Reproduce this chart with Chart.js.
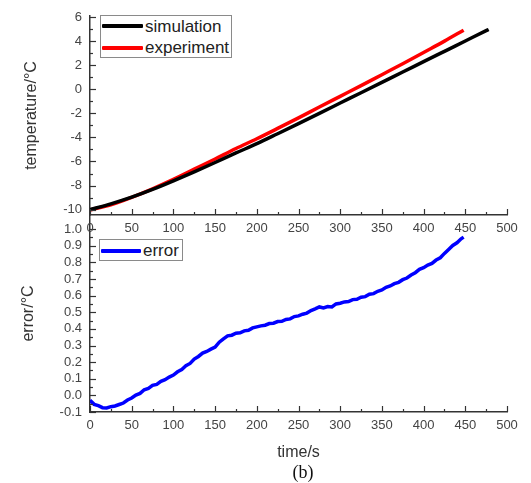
<!DOCTYPE html>
<html>
<head>
<meta charset="utf-8">
<script src="https://cdn.jsdelivr.net/npm/chart.js@4/dist/chart.umd.min.js"></script>
<style>
  body { margin:0; background:#fff; }
  #wrap { position:relative; width:531px; height:483px; overflow:hidden; font-family:"Liberation Sans", Arial, sans-serif; }
  canvas { position:absolute; left:0; top:0; }
  .lg { position:absolute; border:1px solid #8a8a8a; background:#fff; box-sizing:border-box; }
  .sw { position:absolute; height:4px; border-radius:1px; }
  .lt { position:absolute; font-size:17px; color:#222; line-height:17px; white-space:nowrap; }
  #cap { position:absolute; left:0; width:606px; top:462px; text-align:center; font-family:"Liberation Serif", "Times New Roman", serif; font-size:18px; color:#111; }
</style>
</head>
<body>
<div id="wrap">
  <canvas id="c2" width="531" height="483"></canvas>
  <canvas id="c1" width="531" height="483"></canvas>
  <div class="lg" style="left:100px;top:15px;width:132px;height:43px;">
    <div class="sw" style="left:1px;top:8px;width:41px;background:#000;"></div>
    <div class="lt" style="left:44px;top:2px;">simulation</div>
    <div class="sw" style="left:1px;top:30px;width:41px;background:#f00;"></div>
    <div class="lt" style="left:44px;top:23px;">experiment</div>
  </div>
  <div class="lg" style="left:99px;top:239px;width:84px;height:22px;">
    <div class="sw" style="left:1px;top:9px;width:40px;background:#0000ff;"></div>
    <div class="lt" style="left:43px;top:2px;">error</div>
  </div>
  <div id="cap">(b)</div>
</div>
<script>
// ---------- data ----------
const timeTicks = [0, 50, 100, 150, 200, 250, 300, 350, 400, 450, 500];
const tempTicks = [-10, -8, -6, -4, -2, 0, 2, 4, 6];
const errTicks  = [-0.1, 0.0, 0.1, 0.2, 0.3, 0.4, 0.5, 0.6, 0.7, 0.8, 0.9, 1.0];

const simTime   = [0, 25, 50, 75, 100, 125, 150, 175, 200, 225, 250, 275, 300, 325, 350, 375, 400, 425, 450, 475, 478];
const simulation = [-10, -9.525, -8.97, -8.325, -7.61, -6.86, -6.085, -5.29, -4.52, -3.69, -2.85, -2.00, -1.14, -0.28, 0.58, 1.44, 2.30, 3.16, 4.02, 4.88, 4.98];

const expTime   = [0, 25, 50, 75, 100, 125, 150, 175, 200, 225, 250, 275, 300, 325, 350, 375, 400, 425, 448];
const experiment = [-10.03, -9.60, -8.98, -8.27, -7.49, -6.64, -5.79, -4.92, -4.11, -3.25, -2.37, -1.47, -0.58, 0.31, 1.22, 2.13, 3.07, 4.01, 4.92];

const errTime = [0,5,10,15,20,25,30,35,40,45,50,55,60,65,70,75,80,85,90,95,100,105,110,115,120,125,130,135,140,145,150,155,160,165,170,175,180,185,190,195,200,205,210,215,220,225,230,235,240,245,250,255,260,265,270,275,280,285,290,295,300,305,310,315,320,325,330,335,340,345,350,355,360,365,370,375,380,385,390,395,400,405,410,415,420,425,430,435,440,445,448];
const errorVals = [-0.030,-0.054,-0.062,-0.074,-0.076,-0.068,-0.064,-0.055,-0.046,-0.028,-0.016,0.002,0.012,0.034,0.042,0.060,0.066,0.084,0.094,0.110,0.122,0.142,0.156,0.178,0.192,0.218,0.234,0.254,0.264,0.278,0.290,0.320,0.340,0.358,0.362,0.374,0.376,0.388,0.392,0.406,0.412,0.418,0.422,0.432,0.434,0.444,0.446,0.457,0.460,0.474,0.478,0.488,0.495,0.510,0.520,0.532,0.526,0.534,0.532,0.550,0.554,0.562,0.564,0.576,0.578,0.590,0.594,0.608,0.612,0.626,0.634,0.650,0.658,0.672,0.680,0.696,0.706,0.724,0.738,0.758,0.768,0.784,0.794,0.814,0.828,0.854,0.878,0.902,0.918,0.942,0.952];

// ---------- helpers ----------
const pts = (xs, ys) => xs.map((x, i) => ({x: x, y: ys[i]}));
const FONT = "'Liberation Sans', Arial, sans-serif";
const AXIS = '#333';
const TICKC = '#444';

const innerTicks = {
  id: 'innerTicks',
  afterDraw(chart) {
    const {ctx, chartArea: a, scales} = chart;
    const x = scales.x, y = scales.y;
    ctx.save();
    ctx.strokeStyle = AXIS;
    ctx.lineWidth = 1.2;
    const line = (x1, y1, x2, y2) => { ctx.beginPath(); ctx.moveTo(x1, y1); ctx.lineTo(x2, y2); ctx.stroke(); };
    const xv = x.ticks.map(t => t.value);
    xv.forEach((v, i) => {
      const p = Math.round(x.getPixelForValue(v)) + 0.5;
      line(p, a.bottom, p, a.bottom - 6);
      if (i < xv.length - 1) {
        const m = Math.round(x.getPixelForValue((v + xv[i + 1]) / 2)) + 0.5;
        line(m, a.bottom, m, a.bottom - 3);
      }
    });
    const yv = y.ticks.map(t => t.value);
    yv.forEach((v, i) => {
      const p = Math.round(y.getPixelForValue(v)) + 0.5;
      line(a.left, p, a.left + 6, p);
      if (i < yv.length - 1) {
        const m = Math.round(y.getPixelForValue((v + yv[i + 1]) / 2)) + 0.5;
        line(a.left, m, a.left + 3, m);
      }
    });
    ctx.restore();
  }
};

function xScale(height) {
  return {
    type: 'linear', position: 'bottom', min: 0, max: 500,
    afterBuildTicks: s => { s.ticks = timeTicks.map(v => ({value: v})); },
    afterFit: s => { s.height = height; },
    grid: { display: true, drawOnChartArea: false, drawTicks: false },
    border: { display: true, color: AXIS, width: 1.5 },
    ticks: { padding: 6, color: TICKC, font: { family: FONT, size: 13 }, maxRotation: 0, autoSkip: false }
  };
}

// ---------- top chart ----------
new Chart(document.getElementById('c1'), {
  type: 'line',
  data: {
    datasets: [
      { label: 'simulation', data: pts(simTime, simulation), borderColor: '#000', borderWidth: 3.5, pointRadius: 0, cubicInterpolationMode: 'monotone', fill: false },
      { label: 'experiment', data: pts(expTime, experiment), borderColor: '#ff0000', borderWidth: 3.5, pointRadius: 0, cubicInterpolationMode: 'monotone', fill: false }
    ]
  },
  options: {
    responsive: false, animation: false,
    layout: { padding: { left: 0, right: 24, top: 16, bottom: 0 } },
    plugins: { legend: { display: false }, tooltip: { enabled: false } },
    scales: {
      x: xScale(268),
      y: {
        type: 'linear', min: -10.45, max: 6.1,
        afterBuildTicks: s => { s.ticks = tempTicks.map(v => ({value: v})); },
        afterFit: s => { s.width = 90; },
        grid: { display: true, drawOnChartArea: false, drawTicks: false },
        border: { display: true, color: AXIS, width: 1.5 },
        ticks: { padding: 8, color: TICKC, autoSkip: false, font: { family: FONT, size: 13 } },
        title: { display: true, text: 'temperature/°C', color: '#333', font: { family: FONT, size: 16 }, padding: { top: 22, bottom: 0 } }
      }
    }
  },
  plugins: [innerTicks]
});

// ---------- bottom chart ----------
new Chart(document.getElementById('c2'), {
  type: 'line',
  data: {
    datasets: [
      { label: 'error', data: pts(errTime, errorVals), borderColor: '#0000ff', borderWidth: 3.5, pointRadius: 0, tension: 0, fill: false }
    ]
  },
  options: {
    responsive: false, animation: false,
    layout: { padding: { left: 0, right: 24, top: 215, bottom: 0 } },
    plugins: { legend: { display: false }, tooltip: { enabled: false } },
    scales: {
      x: Object.assign(xScale(71), {
        title: { display: true, text: 'time/s', color: '#333', font: { family: FONT, size: 16 }, padding: { top: 0, bottom: 21 } }
      }),
      y: {
        type: 'linear', min: -0.1, max: 1.085,
        afterBuildTicks: s => { s.ticks = errTicks.map(v => ({value: v})); },
        afterFit: s => { s.width = 90; },
        grid: { display: true, drawOnChartArea: false, drawTicks: false },
        border: { display: true, color: AXIS, width: 1.5 },
        ticks: { padding: 8, color: TICKC, autoSkip: false, font: { family: FONT, size: 13 },
                 callback: v => (Math.round(v * 10) / 10 + 0).toFixed(1) },
        title: { display: true, text: 'error/°C', color: '#333', font: { family: FONT, size: 16 }, padding: { top: 19, bottom: 0 } }
      }
    }
  },
  plugins: [innerTicks]
});
</script>
</body>
</html>
